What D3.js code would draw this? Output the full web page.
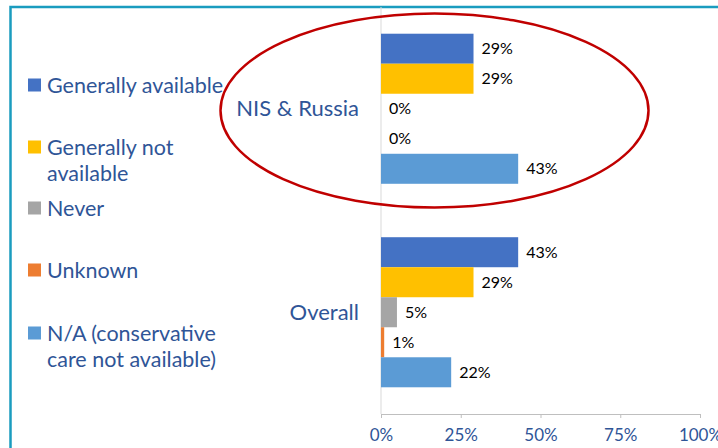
<!DOCTYPE html>
<html>
<head>
<meta charset="utf-8">
<script src="https://cdn.jsdelivr.net/npm/d3@7"></script>
<style>
  body { margin: 0; background: #fff; }
  svg { display: block; font-family: Lato, "Open Sans", sans-serif; }
</style>
</head>
<body>
<div id="chart"></div>
<script>
// chart data
const categories = ["NIS & Russia", "Overall"];
const seriesNames = ["Generally available", "Generally not available", "Never", "Unknown", "N/A (conservative care not available)"];
const nisValues = [29, 29, 0, 0, 43];
const overallValues = [43, 29, 5, 1, 22];
const tickValues = [0, 25, 50, 75, 100];
const tickLabels = ["0%", "25%", "50%", "75%", "100%"];
// legend wording, split in lines like the original
const legendLines = [["Generally available"], ["Generally not", "available"], ["Never"], ["Unknown"], ["N/A (conservative", "care not available)"]];

const colors = ["#4472c4", "#ffc000", "#a5a5a5", "#ed7d31", "#5b9bd5"];
const textBlue = "#2f5597";

const W = 718, H = 448;
const svg = d3.select("#chart").append("svg")
  .attr("width", W).attr("height", H);

// frame
svg.append("path")
  .attr("d", "M10.5,448 V7 H718")
  .attr("fill", "none")
  .attr("stroke", "#1a9cbf")
  .attr("stroke-width", 2.5);

// scales
const x = d3.scaleLinear().domain([0, 100]).range([381, 700]);
const y = d3.scaleBand().domain(categories).range([7, 414]);
const ySub = d3.scaleBand().domain(seriesNames).range([0, y.bandwidth()]).paddingOuter(0.89);

const data = categories.map((c, i) => ({
  cat: c,
  values: (i === 0 ? nisValues : overallValues).map((v, j) => ({ name: seriesNames[j], value: v, color: colors[j] }))
}));

// axis
const axisG = svg.append("g").attr("transform", "translate(0,414)");
axisG.call(d3.axisBottom(x).tickValues(tickValues).tickFormat((d, i) => tickLabels[i]).tickSize(4).tickSizeOuter(0).tickPadding(11));
axisG.select(".domain").attr("stroke", "#bfbfbf");
axisG.selectAll(".tick line").attr("stroke", "#bfbfbf");
axisG.selectAll(".tick text")
  .attr("fill", textBlue)
  .style("font-size", "17px")
  .style("font-family", "Lato, sans-serif");

// vertical axis line
svg.append("line")
  .attr("x1", x(0)).attr("x2", x(0))
  .attr("y1", 7).attr("y2", 414)
  .attr("stroke", "#d9d9d9");

// bars and labels
const groups = svg.selectAll(".grp").data(data).join("g")
  .attr("class", "grp")
  .attr("transform", d => `translate(0,${y(d.cat)})`);

groups.selectAll("rect").data(d => d.values).join("rect")
  .attr("x", x(0))
  .attr("y", d => ySub(d.name))
  .attr("width", d => x(d.value) - x(0))
  .attr("height", ySub.bandwidth())
  .attr("fill", d => d.color);

groups.selectAll("text.val").data(d => d.values).join("text")
  .attr("class", "val")
  .attr("x", d => x(d.value) + 8)
  .attr("y", d => ySub(d.name) + ySub.bandwidth() / 2)
  .attr("dy", "0.35em")
  .style("font-size", "16px")
  .attr("fill", "#000")
  .text(d => d.value + "%");

// category labels
svg.selectAll("text.cat").data(categories).join("text")
  .attr("class", "cat")
  .attr("x", 359)
  .attr("y", d => y(d) + y.bandwidth() / 2)
  .attr("dy", "0.35em")
  .attr("text-anchor", "end")
  .attr("fill", textBlue)
  .style("font-size", "22px")
  .text(d => d);

// legend
const legendY = [85, 147, 208, 270, 333];
const leg = svg.selectAll("g.leg").data(seriesNames).join("g")
  .attr("class", "leg")
  .attr("transform", (d, i) => `translate(28,${legendY[i]})`);
leg.append("rect")
  .attr("x", 0).attr("y", -6.5)
  .attr("width", 13).attr("height", 13)
  .attr("fill", (d, i) => colors[i]);
leg.append("text")
  .attr("fill", textBlue)
  .style("font-size", "21.5px")
  .selectAll("tspan").data((d, i) => legendLines[i]).join("tspan")
  .attr("x", 19)
  .attr("y", (d, k) => k * 26)
  .attr("dy", "0.35em")
  .text(d => d);

// highlight ellipse around the first group
svg.append("ellipse")
  .attr("cx", 434.5).attr("cy", 110.5)
  .attr("rx", 214).attr("ry", 97)
  .attr("fill", "none")
  .attr("stroke", "#c00000")
  .attr("stroke-width", 2.5);
</script>
</body>
</html>
